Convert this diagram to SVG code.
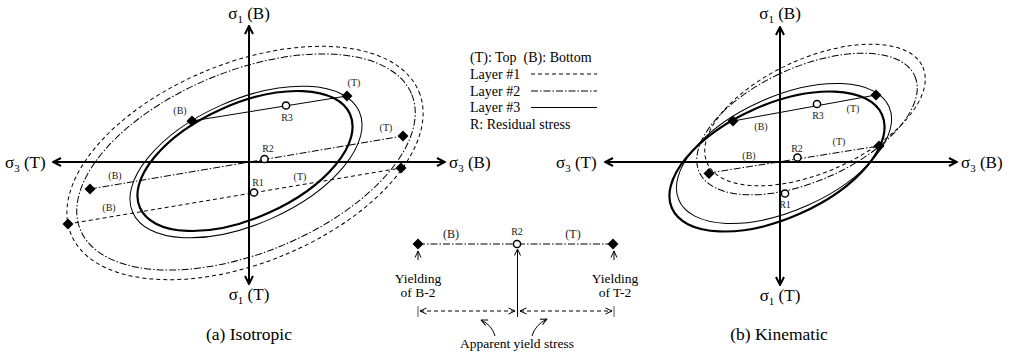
<svg xmlns="http://www.w3.org/2000/svg" width="1013" height="353" viewBox="0 0 1013 353">
<defs>
<style>
text{font-family:"Liberation Serif","Times New Roman",serif;fill:#000}
.ax{stroke:#000;stroke-width:2;fill:none}
.thick{stroke:#000;stroke-width:2.2;fill:none}
.thin{stroke:#000;stroke-width:1;fill:none}
.l1{stroke:#000;stroke-width:1;fill:none;stroke-dasharray:4 3}
.l2{stroke:#000;stroke-width:1;fill:none;stroke-dasharray:7 2 1.5 2}
.res{fill:#fff;stroke:#000;stroke-width:1.5}
.big{font-size:17px}
.cap{font-size:17.5px}
.sm{font-size:10px;fill:#222}
.leg{font-size:14px}
.ins{font-size:13.5px}
</style>
<marker id="ah" viewBox="0 0 10 10" refX="9" refY="5" markerWidth="10" markerHeight="10" markerUnits="userSpaceOnUse" orient="auto-start-reverse"><path d="M1,1 L9,5 L1,9" fill="none" stroke="#000" stroke-width="2"/></marker>
<marker id="ahs" viewBox="0 0 8 8" refX="7.5" refY="4" markerWidth="8" markerHeight="8" markerUnits="userSpaceOnUse" orient="auto-start-reverse"><path d="M1,1 L7.5,4 L1,7" fill="none" stroke="#000" stroke-width="1"/></marker>
<path id="dm" d="M0,-5.5 L5.5,0 L0,5.5 L-5.5,0Z" fill="#000"/>
</defs>
<rect width="1013" height="353" fill="#fff"/>

<!-- (a) Isotropic -->
<g id="isotropic">
  <g id="iso-surfaces">
    <ellipse class="l1" cx="245" cy="163" rx="188" ry="100" transform="rotate(-22.2 245 163)"/>
    <ellipse class="l2" cx="246" cy="162" rx="179" ry="91" transform="rotate(-22.2 246 162)"/>
    <ellipse class="thin" cx="246" cy="162" rx="124" ry="62" transform="rotate(-24 246 162)"/>
    <ellipse class="thick" cx="245" cy="161" rx="115" ry="57" transform="rotate(-24 245 161)"/>
  </g>
  <g id="iso-axes">
    <path class="ax" d="M249,26 V284" marker-start="url(#ah)" marker-end="url(#ah)"/>
    <path class="ax" d="M53,162 H445" marker-start="url(#ah)" marker-end="url(#ah)"/>
    <text class="big" x="249" y="19" text-anchor="middle">σ<tspan font-size="11" dy="4">1</tspan><tspan dy="-4"> (B)</tspan></text>
    <text class="big" x="249" y="300" text-anchor="middle">σ<tspan font-size="11" dy="4">1</tspan><tspan dy="-4"> (T)</tspan></text>
    <text class="big" x="5" y="168">σ<tspan font-size="11" dy="4">3</tspan><tspan dy="-4"> (T)</tspan></text>
    <text class="big" x="449" y="168">σ<tspan font-size="11" dy="4">3</tspan><tspan dy="-4"> (B)</tspan></text>
  </g>
  <g id="iso-connectors">
    <path class="thin" d="M192,121 L347,96"/>
    <path class="l2" d="M90,189 L403,136"/>
    <path class="l1" d="M68,224 L401,168"/>
  </g>
  <g id="iso-points">
    <use href="#dm" x="192" y="121"/>
    <use href="#dm" x="347" y="96"/>
    <use href="#dm" x="90" y="189"/>
    <use href="#dm" x="403" y="136"/>
    <use href="#dm" x="68" y="224"/>
    <use href="#dm" x="401" y="168"/>
    <circle class="res" cx="286" cy="105.5" r="3.6"/>
    <circle class="res" cx="264.5" cy="159" r="3.6"/>
    <circle class="res" cx="254" cy="192.5" r="3.6"/>
  </g>
  <g id="iso-labels">
    <text class="sm" x="354" y="86" text-anchor="middle">(T)</text>
    <text class="sm" x="180" y="114" text-anchor="middle">(B)</text>
    <text class="sm" x="287" y="121" text-anchor="middle">R3</text>
    <text class="sm" x="386" y="131" text-anchor="middle">(T)</text>
    <text class="sm" x="115" y="179" text-anchor="middle">(B)</text>
    <text class="sm" x="268" y="152" text-anchor="middle">R2</text>
    <text class="sm" x="300" y="180" text-anchor="middle">(T)</text>
    <text class="sm" x="109" y="211" text-anchor="middle">(B)</text>
    <text class="sm" x="258" y="186" text-anchor="middle">R1</text>
  </g>
  <text class="cap" x="249" y="340" text-anchor="middle">(a) Isotropic</text>
</g>

<!-- Legend -->
<g id="legend">
  <text class="leg" x="470" y="62" xml:space="preserve">(T): Top  (B): Bottom</text>
  <text class="leg" x="470" y="79">Layer #1</text>
  <text class="leg" x="470" y="96">Layer #2</text>
  <text class="leg" x="470" y="112">Layer #3</text>
  <text class="leg" x="470" y="129">R: Residual stress</text>
  <path class="l1" d="M531,74 H597"/>
  <path class="l2" d="M531,91 H597"/>
  <path class="thin" d="M531,107.5 H597"/>
</g>

<!-- Inset: apparent yield stress -->
<g id="inset">
  <path class="l2" d="M418,244 H613"/>
  <use href="#dm" x="418" y="244"/>
  <use href="#dm" x="613" y="244"/>
  <circle class="res" cx="517" cy="244" r="3.6"/>
  <text class="sm" x="451" y="238" text-anchor="middle" style="font-size:12px">(B)</text>
  <text class="sm" x="517" y="235" text-anchor="middle">R2</text>
  <text class="sm" x="573" y="238" text-anchor="middle" style="font-size:12px">(T)</text>
  <path class="thin" d="M418,260 V251" marker-end="url(#ahs)"/>
  <path class="thin" d="M614,260 V251" marker-end="url(#ahs)"/>
  <path class="thin" d="M517.5,317 V249" marker-end="url(#ahs)"/>
  <text class="ins" x="418" y="283" text-anchor="middle">Yielding</text>
  <text class="ins" x="418" y="297" text-anchor="middle">of B-2</text>
  <text class="ins" x="615" y="283" text-anchor="middle">Yielding</text>
  <text class="ins" x="615" y="297" text-anchor="middle">of T-2</text>
  <path d="M418,306 V317 M614,306 V317" stroke="#555" stroke-width="1"/>
  <path class="l1" d="M420,311 H515" marker-start="url(#ahs)" marker-end="url(#ahs)"/>
  <path class="l1" d="M520,311 H612" marker-start="url(#ahs)" marker-end="url(#ahs)"/>
  <path class="thin" d="M495,336 Q492,325 481,320" marker-end="url(#ahs)"/>
  <path class="thin" d="M532,336 Q535,325 547,319" marker-end="url(#ahs)"/>
  <text class="ins" x="517" y="348" text-anchor="middle">Apparent yield stress</text>
</g>

<!-- (b) Kinematic -->
<g id="kinematic">
  <g id="kin-surfaces">
    <ellipse class="l1" cx="815" cy="115" rx="118" ry="57" transform="rotate(-24 815 115)"/>
    <ellipse class="l2" cx="807" cy="124" rx="118" ry="57" transform="rotate(-24 807 124)"/>
    <ellipse class="thin" cx="784" cy="153.5" rx="115" ry="57" transform="rotate(-24 784 153.5)"/>
    <ellipse class="thick" cx="777" cy="161.5" rx="115" ry="57" transform="rotate(-24 777 161.5)"/>
  </g>
  <g id="kin-axes">
    <path class="ax" d="M780,27 V285" marker-start="url(#ah)" marker-end="url(#ah)"/>
    <path class="ax" d="M605,162 H957" marker-start="url(#ah)" marker-end="url(#ah)"/>
    <text class="big" x="780" y="19" text-anchor="middle">σ<tspan font-size="11" dy="4">1</tspan><tspan dy="-4"> (B)</tspan></text>
    <text class="big" x="780" y="301" text-anchor="middle">σ<tspan font-size="11" dy="4">1</tspan><tspan dy="-4"> (T)</tspan></text>
    <text class="big" x="556" y="168">σ<tspan font-size="11" dy="4">3</tspan><tspan dy="-4"> (T)</tspan></text>
    <text class="big" x="961" y="168">σ<tspan font-size="11" dy="4">3</tspan><tspan dy="-4"> (B)</tspan></text>
  </g>
  <g id="kin-connectors">
    <path class="thin" d="M733,121 L876,95"/>
    <path class="l2" d="M709,173 L879,146"/>
  </g>
  <g id="kin-points">
    <use href="#dm" x="733" y="121"/>
    <use href="#dm" x="876" y="95"/>
    <use href="#dm" x="709" y="173.5"/>
    <use href="#dm" x="879" y="146"/>
    <circle class="res" cx="817" cy="104" r="3.6"/>
    <circle class="res" cx="797.5" cy="157.5" r="3.6"/>
    <circle class="res" cx="785" cy="193.5" r="3.6"/>
  </g>
  <g id="kin-labels">
    <text class="sm" x="853" y="112" text-anchor="middle">(T)</text>
    <text class="sm" x="761" y="130" text-anchor="middle">(B)</text>
    <text class="sm" x="818" y="119" text-anchor="middle">R3</text>
    <text class="sm" x="839" y="145" text-anchor="middle">(T)</text>
    <text class="sm" x="749" y="159" text-anchor="middle">(B)</text>
    <text class="sm" x="797" y="152" text-anchor="middle">R2</text>
    <text class="sm" x="785" y="208" text-anchor="middle">R1</text>
  </g>
  <text class="cap" x="779" y="340" text-anchor="middle">(b) Kinematic</text>
</g>
</svg>
